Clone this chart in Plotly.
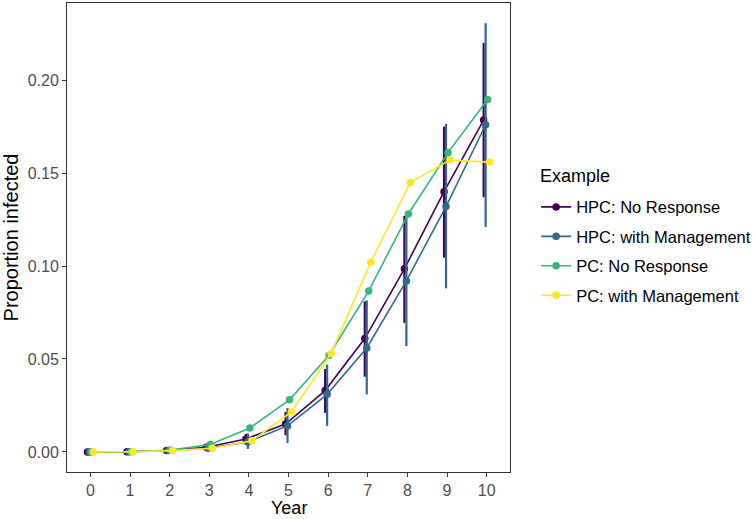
import plotly.graph_objects as go

years = list(range(11))

series_names = ["HPC: No Response", "HPC: with Management", "PC: No Response", "PC: with Management"]
colors = ["#440154", "#31688E", "#35B779", "#FDE725"]

hpc_nr = [0.0, 0.0001, 0.0008, 0.0025, 0.0070, 0.0150, 0.0330, 0.0610, 0.0985, 0.1400, 0.1785]
hpc_nr_lo = [0.0, 0.0, 0.0003, 0.0012, 0.0040, 0.0090, 0.0210, 0.0405, 0.0694, 0.1045, 0.1370]
hpc_nr_hi = [0.0, 0.0003, 0.0014, 0.0040, 0.0097, 0.0215, 0.0446, 0.0810, 0.1270, 0.1750, 0.2200]

hpc_wm = [0.0, 0.0001, 0.0007, 0.0020, 0.0054, 0.0140, 0.0310, 0.0559, 0.0920, 0.1320, 0.1760]
hpc_wm_lo = [0.0, 0.0, 0.0002, 0.0008, 0.0016, 0.0048, 0.0140, 0.0310, 0.0570, 0.0880, 0.1210]
hpc_wm_hi = [0.0, 0.0003, 0.0013, 0.0035, 0.0100, 0.0237, 0.0470, 0.0815, 0.1280, 0.1765, 0.2306]

pc_nr = [0.0, 0.0001, 0.0010, 0.0040, 0.0129, 0.0280, 0.0520, 0.0866, 0.1280, 0.1610, 0.1896]
pc_wm = [0.0, 0.0001, 0.0007, 0.0020, 0.0060, 0.0215, 0.0530, 0.1020, 0.1450, 0.1570, 0.1559]

values = [hpc_nr, hpc_wm, pc_nr, pc_wm]
lows = [hpc_nr_lo, hpc_wm_lo, None, None]
highs = [hpc_nr_hi, hpc_wm_hi, None, None]

y_ticks = [0.0, 0.05, 0.10, 0.15, 0.20]
legend_title = "Example"
x_title = "Year"
y_title = "Proportion infected"

DODGE = 0.2
n = len(series_names)

fig = go.Figure()
for i, (name, col, vals, lo, hi) in enumerate(zip(series_names, colors, values, lows, highs)):
    off = (i - (n - 1) / 2) * DODGE / n
    xs = [yr + off for yr in years]
    err = None
    if lo is not None:
        err = dict(type="data", symmetric=False,
                   array=[h - v for h, v in zip(hi, vals)],
                   arrayminus=[v - l for v, l in zip(vals, lo)],
                   color=col, thickness=2.2, width=0)
    fig.add_trace(go.Scatter(
        x=xs, y=vals, name=name, mode="lines+markers",
        line=dict(color=col, width=1.6),
        marker=dict(color=col, size=7.5),
        error_y=err, legendgroup=name,
    ))

axis_common = dict(
    showgrid=False, zeroline=False,
    showline=True, mirror=True, linecolor="#333333", linewidth=1,
    ticks="outside", ticklen=4, tickwidth=1, tickcolor="#333333",
    tickfont=dict(family="Liberation Sans, Arial", size=16, color="#4D4D4D"),
)

fig.update_layout(
    width=753, height=519,
    margin=dict(l=67, r=243, t=3, b=47, autoexpand=False),
    plot_bgcolor="white", paper_bgcolor="white",
    font=dict(family="Liberation Sans, Arial", color="black"),
    xaxis=dict(range=[-0.59, 10.59], tickvals=years, ticktext=[str(y) for y in years],
               **axis_common),
    yaxis=dict(range=[-0.0108, 0.2415], tickvals=y_ticks, tickformat=".2f",
               title=dict(text=y_title, font=dict(size=20, color="black"), standoff=6),
               **axis_common),
    legend=dict(
        font=dict(size=16.5, color="black"),
        x=1.059, xanchor="left", y=0.602, yanchor="top",
        tracegroupgap=5, bgcolor="rgba(0,0,0,0)",
    ),
    showlegend=True,
    annotations=[
        dict(text=legend_title, xref="paper", yref="paper", x=1.063, y=0.631,
             xanchor="left", yanchor="middle", showarrow=False,
             font=dict(size=18, color="black")),
        dict(text=x_title, xref="paper", yref="paper", x=0.5, y=-0.1,
             xanchor="center", yanchor="bottom", showarrow=False, borderpad=0,
             font=dict(size=18, color="black")),
    ],
)

fig.write_html("out.html")
